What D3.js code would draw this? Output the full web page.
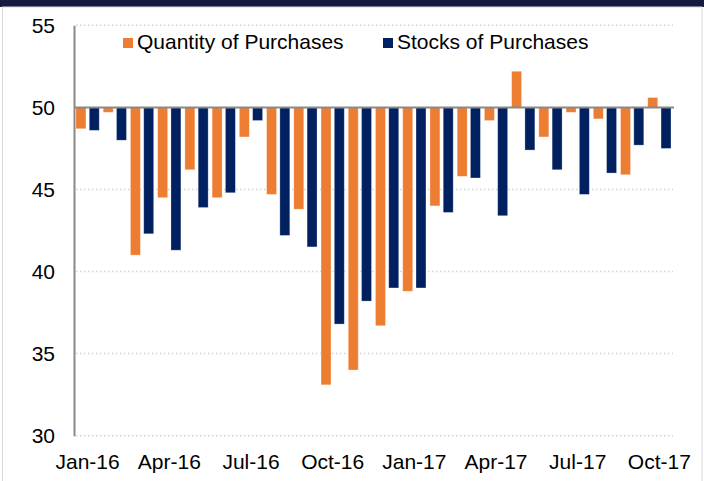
<!DOCTYPE html>
<html>
<head>
<meta charset="utf-8">
<script src="https://cdn.jsdelivr.net/npm/d3@7"></script>
<style>
  body { margin: 0; background: #fff; }
  svg { display: block; font-family: "Liberation Sans", Arial, sans-serif; }
</style>
</head>
<body>
<svg width="704" height="481"></svg>
<script>
// months on the x axis
const months = ["Jan-16","Feb-16","Mar-16","Apr-16","May-16","Jun-16","Jul-16","Aug-16","Sep-16","Oct-16","Nov-16","Dec-16",
                "Jan-17","Feb-17","Mar-17","Apr-17","May-17","Jun-17","Jul-17","Aug-17","Sep-17","Oct-17"];

// Quantity of Purchases
const quantity = [48.7, 49.7, 41.0, 44.5, 46.2, 44.5, 48.2, 44.7, 43.8, 33.1, 34.0, 36.7,
                  38.8, 44.0, 45.8, 49.2, 52.2, 48.2, 49.7, 49.3, 45.9, 50.6];

// Stocks of Purchases
const stocks = [48.6, 48.0, 42.3, 41.3, 43.9, 44.8, 49.2, 42.2, 41.5, 36.8, 38.2, 39.0,
                39.0, 43.6, 45.7, 43.4, 47.4, 46.2, 44.7, 46.0, 47.7, 47.5];

const seriesNames = ["Quantity of Purchases", "Stocks of Purchases"];
const yTicks = [30, 35, 40, 45, 50, 55];
const xTickLabels = ["Jan-16","Apr-16","Jul-16","Oct-16","Jan-17","Apr-17","Jul-17","Oct-17"];
const baseValue = 50;

const colors = { "Quantity of Purchases": "#ED7D31", "Stocks of Purchases": "#002060" };
const fontSize = 21;

const svg = d3.select("svg");

// top band and frame
svg.append("rect").attr("x", 0).attr("y", 0).attr("width", 704).attr("height", 7).attr("fill", "#141b41");
svg.append("rect").attr("x", 2.5).attr("y", 7).attr("width", 699.5).attr("height", 480)
    .attr("fill", "none").attr("stroke", "#d9d9d9").attr("stroke-width", 1);

// scales
const x0 = d3.scaleBand()
    .domain(months)
    .range([74, 673])
    .paddingInner(0.147)
    .paddingOuter(0.0735);

const x1 = d3.scaleBand()
    .domain(seriesNames)
    .range([0, x0.bandwidth()])
    .paddingInner(0.25);

const y = d3.scaleLinear()
    .domain([30, 55])
    .range([435.7, 25.3]);

// dotted gridlines
svg.append("g")
    .selectAll("line")
    .data(yTicks.filter(d => d !== baseValue))
    .enter().append("line")
    .attr("x1", 76).attr("x2", 673)
    .attr("y1", d => y(d)).attr("y2", d => y(d))
    .attr("stroke", "#d4d4d4")
    .attr("stroke-width", 1.5)
    .attr("stroke-dasharray", "1.5,2.5");

// bars
const rows = months.map((m, i) => ({ month: m, values: [
    { key: seriesNames[0], value: quantity[i] },
    { key: seriesNames[1], value: stocks[i] }
]}));

svg.append("g")
    .selectAll("g")
    .data(rows)
    .enter().append("g")
    .attr("transform", d => `translate(${x0(d.month)},0)`)
    .selectAll("rect")
    .data(d => d.values)
    .enter().append("rect")
    .attr("x", d => x1(d.key))
    .attr("width", x1.bandwidth())
    .attr("y", d => y(Math.max(d.value, baseValue)))
    .attr("height", d => Math.abs(y(d.value) - y(baseValue)))
    .attr("fill", d => colors[d.key])
    .attr("stroke", "#ffffff")
    .attr("stroke-opacity", 0.35)
    .attr("stroke-width", 0.8);

// y axis
const yAxis = svg.append("g")
    .attr("transform", "translate(74,0)")
    .call(d3.axisLeft(y).tickValues(yTicks).tickSize(0).tickPadding(19));
yAxis.select(".domain").attr("stroke", "#898989").attr("stroke-width", 2);
yAxis.selectAll("text").attr("font-size", fontSize).attr("fill", "#000")
    .attr("font-family", "Liberation Sans, Arial, sans-serif");

// baseline at 50 acting as the category axis
svg.append("line")
    .attr("x1", 74).attr("x2", 674)
    .attr("y1", y(baseValue)).attr("y2", y(baseValue))
    .attr("stroke", "#898989").attr("stroke-width", 2);

// x labels at the bottom
const xAxis = svg.append("g")
    .attr("transform", `translate(0,${y(30)})`)
    .call(d3.axisBottom(x0).tickValues(xTickLabels).tickSize(0).tickPadding(18));
xAxis.select(".domain").remove();
xAxis.selectAll("text").attr("font-size", fontSize).attr("fill", "#000")
    .attr("font-family", "Liberation Sans, Arial, sans-serif");

// legend
const legendX = [123, 383];
const legend = svg.append("g")
    .selectAll("g")
    .data(seriesNames)
    .enter().append("g")
    .attr("transform", (d, i) => `translate(${legendX[i]},38)`);
legend.append("rect").attr("width", 10).attr("height", 10).attr("fill", d => colors[d]);
legend.append("text")
    .attr("x", 14).attr("y", 11)
    .attr("font-size", fontSize)
    .attr("fill", "#000")
    .text(d => d);
</script>
</body>
</html>
